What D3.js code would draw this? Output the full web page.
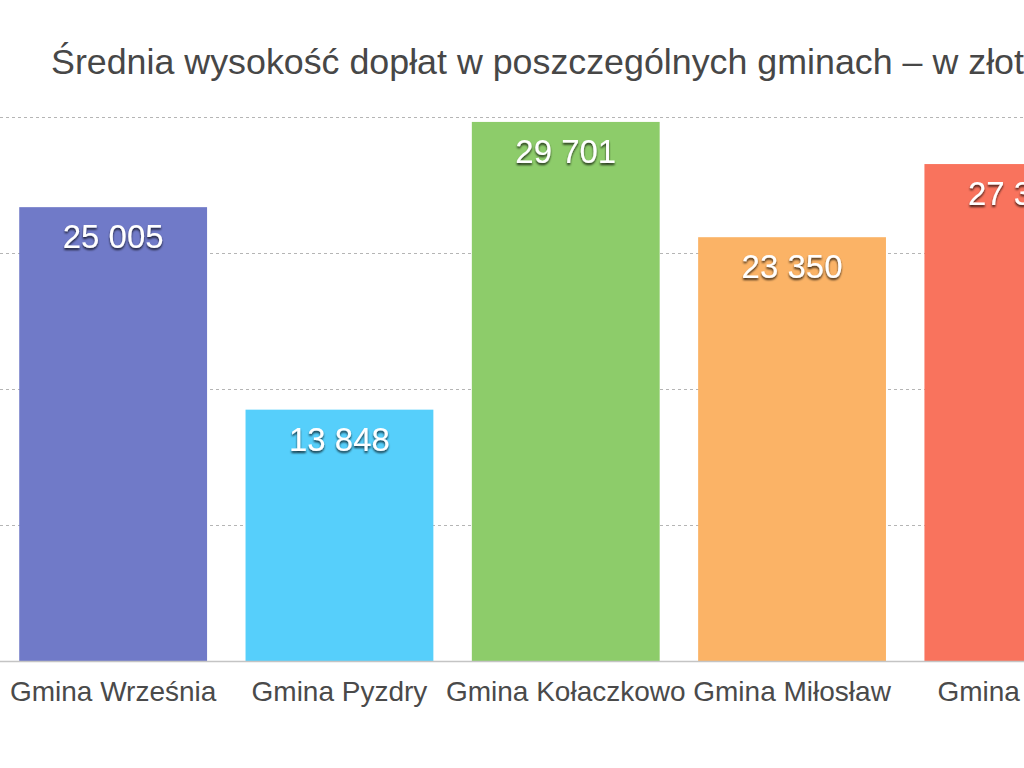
<!DOCTYPE html>
<html>
<head>
<meta charset="utf-8">
<script src="https://cdn.jsdelivr.net/npm/d3@7"></script>
<style>
  html, body { margin: 0; padding: 0; background: #fff; overflow: hidden; }
  #chart { width: 1024px; height: 768px; overflow: hidden; }
  text { font-family: "Liberation Sans", Helvetica, Arial, sans-serif; }
</style>
</head>
<body>
<div id="chart"></div>
<script>
// data
var title = "Średnia wysokość dopłat w poszczególnych gminach – w złotych";
var gminy = ["Gmina Września", "Gmina Pyzdry", "Gmina Kołaczkowo", "Gmina Miłosław", "Gmina Nekla"];
var doplaty = [25005, 13848, 29701, 23350, 27380];
var colors = ["#707ac8", "#56cffb", "#8dcc6a", "#fbb366", "#f9735d"];
var gridTicks = [7500, 15000, 22500, 30000];

var W = 1024, H = 768;

var svg = d3.select("#chart").append("svg")
  .attr("width", W)
  .attr("height", H);

var defs = svg.append("defs");
defs.append("filter").attr("id", "shadow")
  .attr("x", "-10%").attr("y", "-20%").attr("width", "120%").attr("height", "150%")
  .append("feDropShadow")
  .attr("dx", 0).attr("dy", 2).attr("stdDeviation", 1.2)
  .attr("flood-color", "#000").attr("flood-opacity", 0.75);

// chart is wider than the page, so the right part gets cut off like the reference
var x = d3.scaleBand()
  .domain(gminy)
  .range([0, 1131.5])
  .paddingInner(0.17)
  .paddingOuter(0.085);

var y = d3.scaleLinear()
  .domain([0, 30000])
  .range([661, 116.5]);

// dashed grid
svg.append("g").selectAll("line")
  .data(gridTicks)
  .join("line")
  .attr("x1", 0).attr("x2", W)
  .attr("y1", function(d){ return Math.round(y(d)) + 0.5 })
  .attr("y2", function(d){ return Math.round(y(d)) + 0.5 })
  .attr("stroke", "#b5b5b5")
  .attr("stroke-width", 1)
  .attr("stroke-dasharray", "3,3");

// bars
svg.append("g").selectAll("rect")
  .data(doplaty)
  .join("rect")
  .attr("x", function(d, i){ return x(gminy[i]) })
  .attr("width", x.bandwidth())
  .attr("y", function(d){ return y(d) })
  .attr("height", function(d){ return y(0) - y(d) })
  .attr("fill", function(d, i){ return colors[i] });

// baseline
svg.append("line")
  .attr("x1", 0).attr("x2", W)
  .attr("y1", y(0) + 0.5).attr("y2", y(0) + 0.5)
  .attr("stroke", "#c4c4c4")
  .attr("stroke-width", 1.5);

// value labels inside bars
var fmt = function(v){ return d3.format(",")(v).replace(/,/g, " ") };
svg.append("g").selectAll("text")
  .data(doplaty)
  .join("text")
  .attr("x", function(d, i){ return x(gminy[i]) + x.bandwidth() / 2 })
  .attr("y", function(d){ return y(d) + 41 })
  .attr("text-anchor", "middle")
  .attr("fill", "#fff")
  .attr("font-size", "33px")
  .attr("filter", "url(#shadow)")
  .text(fmt);

// category labels
var xAxis = svg.append("g")
  .attr("transform", "translate(0," + y(0) + ")")
  .call(d3.axisBottom(x).tickSize(0).tickPadding(0));
xAxis.select(".domain").remove();
xAxis.selectAll("text")
  .attr("dy", null)
  .attr("y", 40)
  .attr("fill", "#4a4a4a")
  .attr("font-size", "28px")
  .attr("font-family", "\"Liberation Sans\", Helvetica, Arial, sans-serif");

// title
svg.append("text")
  .attr("x", 51)
  .attr("y", 74)
  .attr("fill", "#474747")
  .attr("font-size", "35.8px")
  .text(title);
</script>
</body>
</html>
